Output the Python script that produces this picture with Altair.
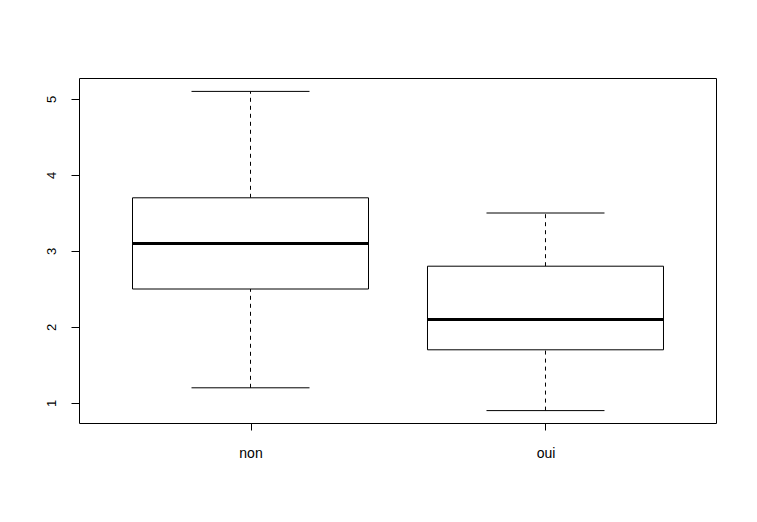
import altair as alt
import pandas as pd

groups = ["non", "oui"]
positions = [1, 2]
mins = [1.2, 0.9]
q1s = [2.5, 1.7]
medians = [3.1, 2.1]
q3s = [3.7, 2.8]
maxs = [5.1, 3.5]
y_ticks = [1, 2, 3, 4, 5]

df = pd.DataFrame({
    "group": groups, "pos": positions, "min": mins, "q1": q1s,
    "median": medians, "q3": q3s, "max": maxs,
})

xscale = alt.Scale(domain=[0.41864, 2.57797], nice=False, zero=False)
yscale = alt.Scale(domain=[0.73684, 5.27632], nice=False, zero=False)

xaxis = alt.Axis(values=positions, labelExpr="datum.value == 1 ? 'non' : 'oui'", title=None)
yaxis = alt.Axis(values=y_ticks, format="d", title=None)

base = alt.Chart(df).transform_calculate(
    left="datum.pos - 0.4", right="datum.pos + 0.4",
    cl="datum.pos - 0.2", cr="datum.pos + 0.2",
)

box = base.mark_rect(fill="white", stroke="black", strokeWidth=1).encode(
    x=alt.X("left:Q", scale=xscale, axis=xaxis),
    x2="right:Q",
    y=alt.Y("q1:Q", scale=yscale, axis=yaxis),
    y2="q3:Q",
)

whisk_lo = base.mark_rule(color="black", strokeWidth=1, strokeDash=[4, 4]).encode(
    x=alt.X("pos:Q", scale=xscale, axis=xaxis), y=alt.Y("min:Q", scale=yscale, axis=yaxis), y2="q1:Q")
whisk_hi = base.mark_rule(color="black", strokeWidth=1, strokeDash=[4, 4]).encode(
    x=alt.X("pos:Q", scale=xscale, axis=xaxis), y=alt.Y("q3:Q", scale=yscale, axis=yaxis), y2="max:Q")
cap_lo = base.mark_rule(color="black", strokeWidth=1).encode(
    x=alt.X("cl:Q", scale=xscale, axis=xaxis), x2="cr:Q", y=alt.Y("min:Q", scale=yscale, axis=yaxis))
cap_hi = base.mark_rule(color="black", strokeWidth=1).encode(
    x=alt.X("cl:Q", scale=xscale, axis=xaxis), x2="cr:Q", y=alt.Y("max:Q", scale=yscale, axis=yaxis))
med = base.mark_rule(color="black", strokeWidth=3).encode(
    x=alt.X("left:Q", scale=xscale, axis=xaxis), x2="right:Q", y=alt.Y("median:Q", scale=yscale, axis=yaxis))

chart = alt.layer(whisk_lo, whisk_hi, cap_lo, cap_hi, box, med).properties(
    width=637, height=345,
    autosize=alt.AutoSizeParams(type="none"),
    padding={"left": 71, "top": 70, "right": 26, "bottom": 80},
    background="white",
).configure_view(stroke="black", strokeWidth=1).configure_axis(
    domain=False, grid=False, tickColor="black", labelColor="black",
    labelFont="Liberation Sans",
).configure_axisX(
    tickSize=7, labelPadding=27, labelBaseline="alphabetic", labelFontSize=14,
).configure_axisY(
    tickSize=8, labelAngle=270, labelAlign="center", labelBaseline="bottom",
    labelPadding=13, labelFontSize=13,
)

chart.save("out.html", embed_options={"renderer": "svg", "actions": False})
